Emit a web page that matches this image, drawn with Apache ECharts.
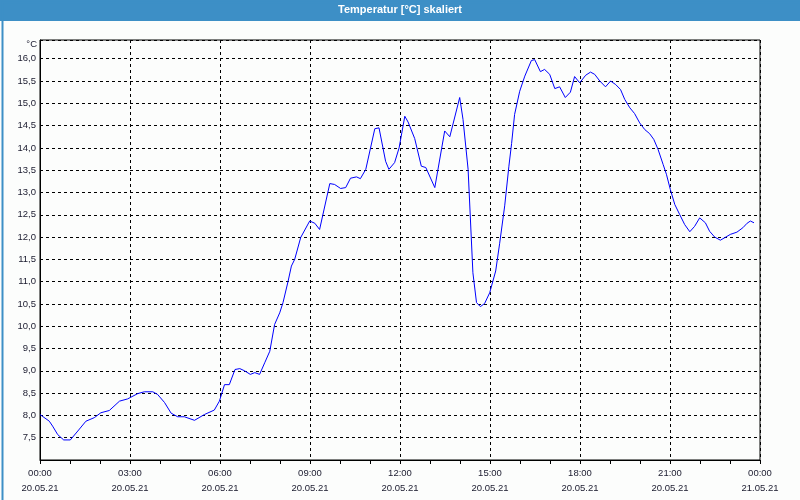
<!DOCTYPE html>
<html>
<head>
<meta charset="utf-8">
<script src="https://cdn.jsdelivr.net/npm/echarts@6/dist/echarts.min.js"></script>
<style>
html,body{margin:0;padding:0;background:#fcfdfc;}
#chart{width:800px;height:500px;}
</style>
</head>
<body>
<div id="chart"></div>
<script>
// time of day in hours since 20.05.21 00:00
const hours = [0.00,0.31,0.42,0.59,0.79,1.01,1.26,1.53,1.81,2.03,2.31,2.65,2.92,3.26,3.48,3.76,3.92,4.15,4.37,4.59,4.81,5.15,5.48,5.81,5.98,6.15,6.31,6.50,6.66,6.82,7.01,7.16,7.32,7.49,7.66,7.82,7.99,8.10,8.27,8.38,8.49,8.69,8.99,9.16,9.32,9.66,9.82,10.02,10.19,10.35,10.55,10.68,10.86,11.16,11.30,11.52,11.63,11.82,11.97,12.16,12.27,12.49,12.71,12.86,13.16,13.49,13.66,13.99,14.10,14.27,14.43,14.55,14.68,14.82,14.99,15.19,15.32,15.49,15.63,15.72,15.82,15.99,16.16,16.38,16.49,16.68,16.82,16.99,17.16,17.32,17.51,17.68,17.82,17.99,18.19,18.35,18.49,18.66,18.85,19.02,19.19,19.35,19.49,19.66,19.82,19.99,20.16,20.32,20.46,20.60,20.77,20.88,21.01,21.16,21.32,21.49,21.66,21.82,21.99,22.18,22.32,22.49,22.68,22.86,23.01,23.23,23.43,23.57,23.68,23.80];
const temps = [8.02,7.87,7.76,7.57,7.45,7.45,7.65,7.87,7.95,8.06,8.11,8.32,8.37,8.49,8.53,8.53,8.47,8.29,8.05,7.97,7.97,7.89,8.02,8.12,8.32,8.69,8.69,9.03,9.05,9.00,8.92,8.96,8.92,9.18,9.44,10.04,10.30,10.53,11.01,11.35,11.50,11.99,12.36,12.31,12.17,13.20,13.18,13.09,13.11,13.32,13.35,13.31,13.52,14.43,14.45,13.70,13.52,13.67,14.00,14.71,14.58,14.21,13.59,13.56,13.11,14.38,14.25,15.13,14.64,13.52,11.20,10.53,10.44,10.51,10.75,11.24,11.85,12.70,13.59,14.10,14.75,15.27,15.61,15.96,15.98,15.71,15.76,15.65,15.33,15.37,15.13,15.25,15.60,15.46,15.63,15.70,15.65,15.50,15.37,15.50,15.42,15.31,15.09,14.90,14.77,14.56,14.41,14.32,14.19,13.97,13.63,13.41,13.07,12.73,12.51,12.28,12.12,12.24,12.43,12.32,12.13,12.00,11.93,12.00,12.06,12.11,12.21,12.31,12.36,12.32];
const dateLabels = ['20.05.21','21.05.21'];
const titleText = 'Temperatur [°C] skaliert';
const unitText = '°C';

const seriesData = hours.map((h, i) => [h, temps[i]]);
const pad = n => (n < 10 ? '0' : '') + n;
const labelFont = 'Liberation Sans';

const chart = echarts.init(document.getElementById('chart'), null, {renderer: 'canvas'});
chart.setOption({
  backgroundColor: '#fcfdfc',
  animation: false,
  grid: {left: 40, right: 40, top: 40, bottom: 40, show: true, borderColor: '#000', borderWidth: 1, backgroundColor: 'transparent'},
  xAxis: {
    type: 'value', min: 0, max: 24, interval: 3,
    axisLine: {show: true, lineStyle: {color: '#000', width: 1}},
    axisTick: {show: true, length: 4, lineStyle: {color: '#000'}},
    minorTick: {show: true, splitNumber: 3, length: 4, lineStyle: {color: '#000'}},
    splitLine: {show: true, lineStyle: {color: '#000', type: [3, 3], width: 1}},
    axisLabel: {
      margin: 6, color: '#1a1a2e', fontFamily: labelFont, fontSize: 9.5, lineHeight: 15,
      formatter: v => pad(Math.round(v) % 24) + ':00\n' + (v >= 24 ? dateLabels[1] : dateLabels[0])
    }
  },
  yAxis: {
    type: 'value', min: 7, max: 16.42, interval: 0.5,
    axisLine: {show: true, lineStyle: {color: '#000', width: 1}},
    axisTick: {show: false},
    splitLine: {show: true, lineStyle: {color: '#000', type: [3, 3], width: 1}},
    axisLabel: {
      margin: 4, color: '#1a1a2e', fontFamily: labelFont, fontSize: 9.5,
      formatter: v => (v < 7.25 || v > 16.01) ? '' : v.toFixed(1).replace('.', ',')
    }
  },
  series: [{
    type: 'line', data: seriesData, showSymbol: false, smooth: false,
    lineStyle: {color: '#0000ff', width: 1}, itemStyle: {color: '#0000ff'}
  }],
  graphic: [
    {type: 'rect', left: 0, top: 0, shape: {width: 800, height: 21}, style: {fill: '#3d8fc6'}, z: 10},
    {type: 'text', left: 'center', top: 4, style: {text: titleText, fill: '#fff', font: 'bold 11px "Liberation Sans"'}, z: 11},
    {type: 'rect', left: 0, top: 0, shape: {x: 0.5, y: 0.5, width: 799, height: 499}, style: {fill: 'none', stroke: '#3d8fc6', lineWidth: 2}, z: 10},
    {type: 'text', x: 37, y: 44.5, style: {text: unitText, fill: '#1a1a2e', font: '9.5px "Liberation Sans"', align: 'right', verticalAlign: 'middle'}, z: 11}
  ]
});
</script>
</body>
</html>
